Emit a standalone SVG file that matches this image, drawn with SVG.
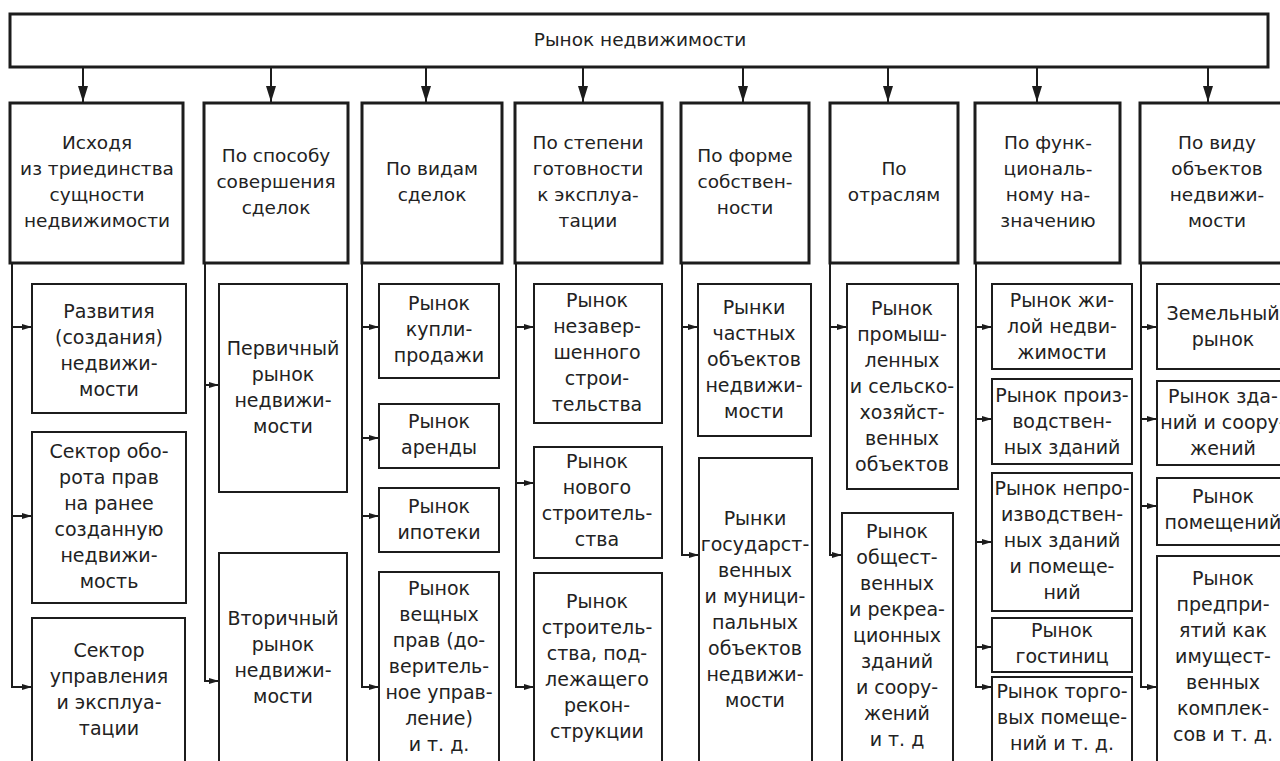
<svg xmlns="http://www.w3.org/2000/svg" width="1280" height="761" viewBox="0 0 1280 761">
<defs>
<style>
.bx{fill:#fff;stroke:#1c1c1c}
.top,.l1{stroke-width:3}
.ch{stroke-width:2}
text{font-family:"DejaVu Sans","Liberation Sans",sans-serif;fill:#222;text-anchor:middle}
.t1{font-size:18.5px}
.tc{font-size:19px}
.cn{fill:none;stroke:#1c1c1c;stroke-width:2}
.ca{fill:none;stroke:#1c1c1c;stroke-width:2;marker-end:url(#as)}
.da{fill:none;stroke:#1c1c1c;stroke-width:2;marker-end:url(#ab)}
</style>
<marker id="ab" viewBox="0 0 16 10" refX="16" refY="5" markerWidth="16" markerHeight="10" markerUnits="userSpaceOnUse" orient="auto"><path d="M0,0 L16,5 L0,10 z" fill="#1c1c1c"/></marker>
<marker id="as" viewBox="0 0 10 6" refX="10" refY="3" markerWidth="10" markerHeight="6" markerUnits="userSpaceOnUse" orient="auto"><path d="M0,0 L10,3 L0,6 z" fill="#1c1c1c"/></marker>
</defs>
<rect width="1280" height="761" fill="#fff"/>

<g id="connectors">
<path class="da" d="M83,67 V102"/>
<path class="da" d="M271,67 V102"/>
<path class="da" d="M426,67 V102"/>
<path class="da" d="M583,67 V102"/>
<path class="da" d="M743,67 V102"/>
<path class="da" d="M888,67 V102"/>
<path class="da" d="M1037,67 V102"/>
<path class="da" d="M1208,67 V102"/>
<!-- col1 -->
<path class="ca" d="M12,263 V687 H32"/>
<path class="ca" d="M12,327 H32"/>
<path class="ca" d="M12,516 H32"/>
<!-- col2 -->
<path class="ca" d="M205,263 V681 H219"/>
<path class="ca" d="M205,385 H219"/>
<!-- col3 -->
<path class="ca" d="M362,263 V687 H379"/>
<path class="ca" d="M362,327 H379"/>
<path class="ca" d="M362,438 H379"/>
<path class="ca" d="M362,516 H379"/>
<!-- col4 -->
<path class="ca" d="M516,263 V687 H534"/>
<path class="ca" d="M516,327 H534"/>
<path class="ca" d="M516,483 H534"/>
<!-- col5 -->
<path class="ca" d="M682,263 V555 H699"/>
<path class="ca" d="M682,327 H698"/>
<!-- col6 -->
<path class="ca" d="M830,263 V555 H842"/>
<path class="ca" d="M830,327 H847"/>
<!-- col7 -->
<path class="ca" d="M976,263 V687 H992"/>
<path class="ca" d="M976,327 H992"/>
<path class="ca" d="M976,419 H992"/>
<path class="ca" d="M976,542 H992"/>
<path class="ca" d="M976,647 H992"/>
<!-- col8 -->
<path class="ca" d="M1141,263 V687 H1157"/>
<path class="ca" d="M1141,327 H1157"/>
<path class="ca" d="M1141,419 H1157"/>
<path class="ca" d="M1141,506 H1157"/>
</g>

<g id="root"><rect class="bx top" x="10" y="14" width="1258" height="53"/>
<text class="t1" x="640" y="46">Рынок недвижимости</text></g>

<g id="c1"><rect class="bx l1" x="10" y="103" width="173" height="160"/>
<text class="t1"><tspan x="97" y="149">Исходя</tspan><tspan x="97" y="175">из триединства</tspan><tspan x="97" y="201">сущности</tspan><tspan x="97" y="227">недвижимости</tspan></text></g>
<g id="c2"><rect class="bx l1" x="204" y="103" width="144" height="160"/>
<text class="t1"><tspan x="276" y="162">По способу</tspan><tspan x="276" y="188">совершения</tspan><tspan x="276" y="214">сделок</tspan></text></g>
<g id="c3"><rect class="bx l1" x="362" y="103" width="140" height="160"/>
<text class="t1"><tspan x="432" y="175">По видам</tspan><tspan x="432" y="201">сделок</tspan></text></g>
<g id="c4"><rect class="bx l1" x="515" y="103" width="147" height="160"/>
<text class="t1"><tspan x="588" y="149">По степени</tspan><tspan x="588" y="175">готовности</tspan><tspan x="588" y="201">к эксплуа-</tspan><tspan x="588" y="227">тации</tspan></text></g>
<g id="c5"><rect class="bx l1" x="681" y="103" width="128" height="160"/>
<text class="t1"><tspan x="745" y="162">По форме</tspan><tspan x="745" y="188">собствен-</tspan><tspan x="745" y="214">ности</tspan></text></g>
<g id="c6"><rect class="bx l1" x="830" y="103" width="128" height="160"/>
<text class="t1"><tspan x="894" y="175">По</tspan><tspan x="894" y="201">отраслям</tspan></text></g>
<g id="c7"><rect class="bx l1" x="975" y="103" width="145" height="160"/>
<text class="t1"><tspan x="1048" y="149">По функ-</tspan><tspan x="1048" y="175">циональ-</tspan><tspan x="1048" y="201">ному на-</tspan><tspan x="1048" y="227">значению</tspan></text></g>
<g id="c8"><rect class="bx l1" x="1140" y="103" width="154" height="160"/>
<text class="t1"><tspan x="1217" y="149">По виду</tspan><tspan x="1217" y="175">объектов</tspan><tspan x="1217" y="201">недвижи-</tspan><tspan x="1217" y="227">мости</tspan></text></g>

<g id="n1a"><rect class="bx ch" x="32" y="284" width="154" height="129"/>
<text class="tc"><tspan x="109" y="318">Развития</tspan><tspan x="109" y="344">(создания)</tspan><tspan x="109" y="370">недвижи-</tspan><tspan x="109" y="396">мости</tspan></text></g>
<g id="n1b"><rect class="bx ch" x="32" y="432" width="154" height="171"/>
<text class="tc"><tspan x="109" y="458">Сектор обо-</tspan><tspan x="109" y="484">рота прав</tspan><tspan x="109" y="510">на ранее</tspan><tspan x="109" y="536">созданную</tspan><tspan x="109" y="562">недвижи-</tspan><tspan x="109" y="588">мость</tspan></text></g>
<g id="n1c"><rect class="bx ch" x="32" y="618" width="153" height="170"/>
<text class="tc"><tspan x="109" y="657">Сектор</tspan><tspan x="109" y="683">управления</tspan><tspan x="109" y="709">и эксплуа-</tspan><tspan x="109" y="735">тации</tspan></text></g>

<g id="n2a"><rect class="bx ch" x="219" y="284" width="128" height="208"/>
<text class="tc"><tspan x="283" y="355">Первичный</tspan><tspan x="283" y="381">рынок</tspan><tspan x="283" y="407">недвижи-</tspan><tspan x="283" y="433">мости</tspan></text></g>
<g id="n2b"><rect class="bx ch" x="219" y="553" width="128" height="235"/>
<text class="tc"><tspan x="283" y="625">Вторичный</tspan><tspan x="283" y="651">рынок</tspan><tspan x="283" y="677">недвижи-</tspan><tspan x="283" y="703">мости</tspan></text></g>

<g id="n3a"><rect class="bx ch" x="379" y="284" width="120" height="94"/>
<text class="tc"><tspan x="439" y="310">Рынок</tspan><tspan x="439" y="336">купли-</tspan><tspan x="439" y="362">продажи</tspan></text></g>
<g id="n3b"><rect class="bx ch" x="379" y="404" width="120" height="64"/>
<text class="tc"><tspan x="439" y="428">Рынок</tspan><tspan x="439" y="454">аренды</tspan></text></g>
<g id="n3c"><rect class="bx ch" x="379" y="488" width="120" height="64"/>
<text class="tc"><tspan x="439" y="513">Рынок</tspan><tspan x="439" y="539">ипотеки</tspan></text></g>
<g id="n3d"><rect class="bx ch" x="379" y="572" width="120" height="216"/>
<text class="tc"><tspan x="439" y="595">Рынок</tspan><tspan x="439" y="621">вещных</tspan><tspan x="439" y="647">прав (до-</tspan><tspan x="439" y="673">веритель-</tspan><tspan x="439" y="699">ное управ-</tspan><tspan x="439" y="725">ление)</tspan><tspan x="439" y="751">и т. д.</tspan></text></g>

<g id="n4a"><rect class="bx ch" x="534" y="284" width="128" height="139"/>
<text class="tc"><tspan x="597" y="307">Рынок</tspan><tspan x="597" y="333">незавер-</tspan><tspan x="597" y="359">шенного</tspan><tspan x="597" y="385">строи-</tspan><tspan x="597" y="411">тельства</tspan></text></g>
<g id="n4b"><rect class="bx ch" x="534" y="447" width="128" height="111"/>
<text class="tc"><tspan x="597" y="468">Рынок</tspan><tspan x="597" y="494">нового</tspan><tspan x="597" y="520">строитель-</tspan><tspan x="597" y="546">ства</tspan></text></g>
<g id="n4c"><rect class="bx ch" x="534" y="573" width="128" height="215"/>
<text class="tc"><tspan x="597" y="608">Рынок</tspan><tspan x="597" y="634">строитель-</tspan><tspan x="597" y="660">ства, под-</tspan><tspan x="597" y="686">лежащего</tspan><tspan x="597" y="712">рекон-</tspan><tspan x="597" y="738">струкции</tspan></text></g>

<g id="n5a"><rect class="bx ch" x="698" y="284" width="113" height="152"/>
<text class="tc"><tspan x="754" y="314">Рынки</tspan><tspan x="754" y="340">частных</tspan><tspan x="754" y="366">объектов</tspan><tspan x="754" y="392">недвижи-</tspan><tspan x="754" y="418">мости</tspan></text></g>
<g id="n5b"><rect class="bx ch" x="699" y="458" width="113" height="330"/>
<text class="tc"><tspan x="755" y="525">Рынки</tspan><tspan x="755" y="551">государст-</tspan><tspan x="755" y="577">венных</tspan><tspan x="755" y="603">и муници-</tspan><tspan x="755" y="629">пальных</tspan><tspan x="755" y="655">объектов</tspan><tspan x="755" y="681">недвижи-</tspan><tspan x="755" y="707">мости</tspan></text></g>

<g id="n6a"><rect class="bx ch" x="847" y="284" width="111" height="205"/>
<text class="tc"><tspan x="902" y="315">Рынок</tspan><tspan x="902" y="341">промыш-</tspan><tspan x="902" y="367">ленных</tspan><tspan x="902" y="393">и сельско-</tspan><tspan x="902" y="419">хозяйст-</tspan><tspan x="902" y="445">венных</tspan><tspan x="902" y="471">объектов</tspan></text></g>
<g id="n6b"><rect class="bx ch" x="842" y="513" width="111" height="275"/>
<text class="tc"><tspan x="897" y="538">Рынок</tspan><tspan x="897" y="564">общест-</tspan><tspan x="897" y="590">венных</tspan><tspan x="897" y="616">и рекреа-</tspan><tspan x="897" y="642">ционных</tspan><tspan x="897" y="668">зданий</tspan><tspan x="897" y="694">и соору-</tspan><tspan x="897" y="720">жений</tspan><tspan x="897" y="746">и т. д</tspan></text></g>

<g id="n7a"><rect class="bx ch" x="992" y="284" width="140" height="85"/>
<text class="tc"><tspan x="1062" y="307">Рынок жи-</tspan><tspan x="1062" y="333">лой недви-</tspan><tspan x="1062" y="359">жимости</tspan></text></g>
<g id="n7b"><rect class="bx ch" x="992" y="379" width="140" height="85"/>
<text class="tc"><tspan x="1062" y="402">Рынок произ-</tspan><tspan x="1062" y="428">водствен-</tspan><tspan x="1062" y="454">ных зданий</tspan></text></g>
<g id="n7c"><rect class="bx ch" x="992" y="473" width="140" height="138"/>
<text class="tc"><tspan x="1062" y="495">Рынок непро-</tspan><tspan x="1062" y="521">изводствен-</tspan><tspan x="1062" y="547">ных зданий</tspan><tspan x="1062" y="573">и помеще-</tspan><tspan x="1062" y="599">ний</tspan></text></g>
<g id="n7d"><rect class="bx ch" x="992" y="618" width="140" height="54"/>
<text class="tc"><tspan x="1062" y="637">Рынок</tspan><tspan x="1062" y="663">гостиниц</tspan></text></g>
<g id="n7e"><rect class="bx ch" x="992" y="677" width="140" height="111"/>
<text class="tc"><tspan x="1062" y="698">Рынок торго-</tspan><tspan x="1062" y="724">вых помеще-</tspan><tspan x="1062" y="750">ний и т. д.</tspan></text></g>

<g id="n8a"><rect class="bx ch" x="1157" y="284" width="140" height="85"/>
<text class="tc"><tspan x="1223" y="320">Земельный</tspan><tspan x="1223" y="346">рынок</tspan></text></g>
<g id="n8b"><rect class="bx ch" x="1157" y="381" width="140" height="84"/>
<text class="tc"><tspan x="1223" y="403">Рынок зда-</tspan><tspan x="1223" y="429">ний и соору-</tspan><tspan x="1223" y="455">жений</tspan></text></g>
<g id="n8c"><rect class="bx ch" x="1157" y="478" width="140" height="67"/>
<text class="tc"><tspan x="1223" y="503">Рынок</tspan><tspan x="1223" y="529">помещений</tspan></text></g>
<g id="n8d"><rect class="bx ch" x="1157" y="556" width="140" height="232"/>
<text class="tc"><tspan x="1223" y="585">Рынок</tspan><tspan x="1223" y="611">предпри-</tspan><tspan x="1223" y="637">ятий как</tspan><tspan x="1223" y="663">имущест-</tspan><tspan x="1223" y="689">венных</tspan><tspan x="1223" y="715">комплек-</tspan><tspan x="1223" y="741">сов и т. д.</tspan></text></g>
</svg>
